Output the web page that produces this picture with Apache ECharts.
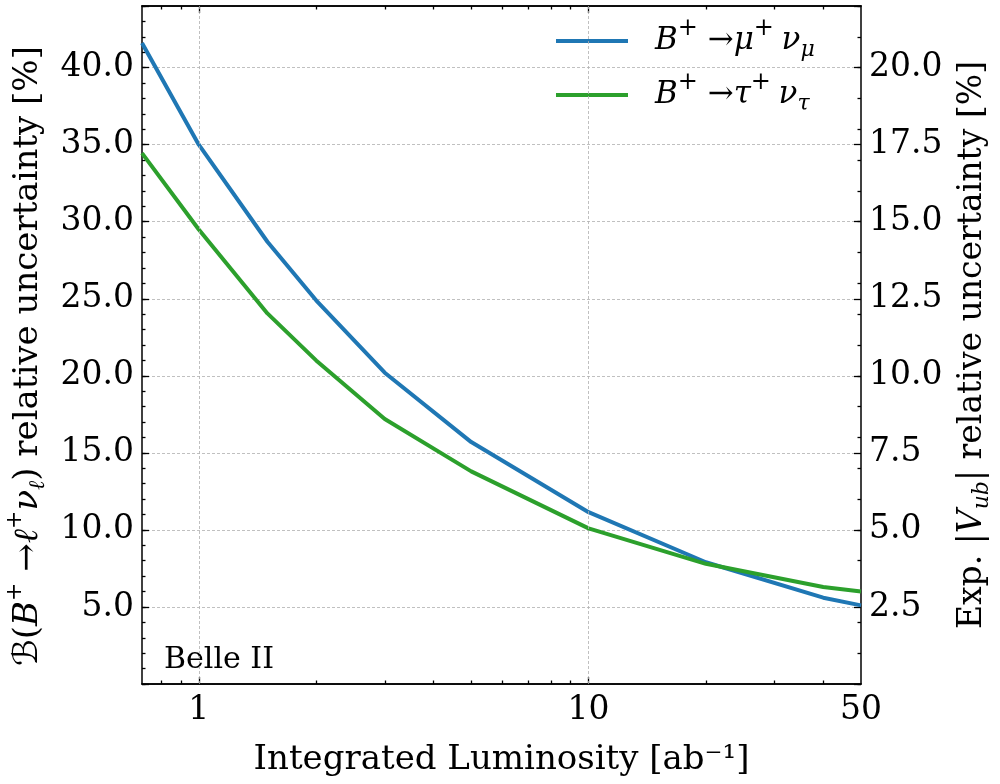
<!DOCTYPE html>
<html>
<head>
<meta charset="utf-8">
<script src="https://cdn.jsdelivr.net/npm/echarts@6/dist/echarts.min.js"></script>
<style>html,body{margin:0;padding:0;background:#fff}#c{width:1000px;height:784px}</style>
</head>
<body>
<div id="c"></div>
<script>
// ---- data ----
const lumi   = [0.715, 1, 1.5, 2, 3, 5, 10, 20, 40, 50];
const muNu   = [41.6, 35.0, 28.7, 24.9, 20.2, 15.7, 11.15, 7.9, 5.6, 5.1];
const tauNu  = [34.45, 29.5, 24.05, 21.0, 17.2, 13.8, 10.1, 7.8, 6.3, 6.0];
const xLabels = [1, 10, 50];
const xMajorTicks = [1, 10];
const xMinorTicks = [0.8, 0.9, 2, 3, 4, 5, 6, 7, 8, 9, 20, 30, 40];
const seriesNames = ['mu', 'tau'];

const SERIF = '"DejaVu Serif", serif';
const chart = echarts.init(document.getElementById('c'), null, {renderer: 'canvas'});

const X_MIN = 0.715, X_MAX = 50;
const L_MAX = 44, R_MAX = 22;

function xAxisDef(pos, ticks, len, labels) {
  return {
    type: 'log', logBase: 10, min: X_MIN, max: X_MAX, position: pos,
    axisLine: {show: true, onZero: false, lineStyle: {color: '#000', width: 1.5}},
    axisTick: {show: true, inside: true, length: len, customValues: ticks, lineStyle: {color: '#000', width: 1.3}},
    axisLabel: labels ? {show: true, customValues: xLabels, fontFamily: SERIF, fontSize: 33, color: '#000', margin: 10,
      formatter: v => String(Math.round(v))} : {show: false},
    splitLine: {show: false}, minorTick: {show: false}
  };
}

const FS = 33;
const supStyle = {fontFamily: SERIF, fontSize: 22, color: '#000', padding: [0, 0, 26, 0]};
const subStyle = {fontFamily: SERIF, fontSize: 22, fontStyle: 'italic', color: '#000', padding: [20, 0, 0, 0]};

const option = {
  backgroundColor: '#fff',
  animation: false,
  grid: {left: 142, right: 139, top: 6, bottom: 100, containLabel: false, outerBoundsMode: 'none'},
  legend: {
    show: true, top: 17, left: 556, padding: 0, orient: 'vertical', itemGap: 10,
    icon: 'rect', itemWidth: 72, itemHeight: 4,
    data: seriesNames,
    formatter: n => n === 'mu'
      ? '{i|B}{sp|+}{a| →}{i|μ}{sp|+ }{i|ν}{sb|μ}'
      : '{i|B}{sp|+}{a| →}{i|τ}{sp|+ }{i|ν}{sb|τ}',
    textStyle: {
      padding: [0, 0, 0, 22],
      rich: {
        i: {fontFamily: SERIF, fontStyle: 'italic', fontSize: 31, color: '#000'},
        a: {fontFamily: SERIF, fontSize: 31, color: '#000'},
        sp: {fontFamily: SERIF, fontSize: 24, color: '#000', padding: [0, 0, 24, 0]},
        sb: {fontFamily: SERIF, fontStyle: 'italic', fontSize: 22, color: '#000', padding: [18, 0, 0, 0]}
      }
    }
  },
  xAxis: [
    Object.assign(xAxisDef('bottom', xMajorTicks, 7, true), {
      name: 'Integrated Luminosity [ab⁻¹]', nameLocation: 'middle', nameGap: 59,
      nameTextStyle: {fontFamily: SERIF, fontSize: 34, color: '#000'}
    }),
    xAxisDef('bottom', xMinorTicks, 3.5, false),
    xAxisDef('top', xMajorTicks, 7, false),
    xAxisDef('top', xMinorTicks, 3.5, false)
  ],
  yAxis: [
    {
      type: 'value', min: 0, max: L_MAX, interval: 5, position: 'left',
      axisLine: {show: true, onZero: false, lineStyle: {color: '#000', width: 1.5}},
      axisTick: {show: true, inside: true, length: 7, lineStyle: {color: '#000', width: 1.3}},
      axisLabel: {fontFamily: SERIF, fontSize: 33, color: '#000', margin: 8,
        formatter: v => (v > 0 && v <= 40) ? v.toFixed(1) : ''},
      splitLine: {show: true, lineStyle: {color: '#b0b0b0', width: 0.8, type: [3, 2]}},
      name: '{cal|ℬ}{r|(}{i|B}{sp|+}{r| →}{i|ℓ}{sp|+}{i|ν}{sb|ℓ}{r|) relative uncertainty [%]}',
      nameLocation: 'middle', nameRotate: 90, nameGap: 90,
      nameTextStyle: {
        padding: [0, 22, 0, 0],
        rich: {
          r: {fontFamily: SERIF, fontSize: 34, color: '#000'},
          i: {fontFamily: SERIF, fontStyle: 'italic', fontSize: 34, color: '#000'},
          cal: {fontFamily: '"DejaVu Sans", serif', fontSize: 34, color: '#000'},
          sp: supStyle, sb: subStyle
        }
      }
    },
    {
      type: 'value', min: 0, max: L_MAX, interval: 1, position: 'left',
      axisLine: {show: false},
      axisTick: {show: true, inside: true, length: 3.5, lineStyle: {color: '#000', width: 1.3}},
      axisLabel: {show: false}, splitLine: {show: false}
    },
    {
      type: 'value', min: 0, max: R_MAX, interval: 2.5, position: 'right',
      axisLine: {show: true, onZero: false, lineStyle: {color: '#000', width: 1.5}},
      axisTick: {show: true, inside: true, length: 7, lineStyle: {color: '#000', width: 1.3}},
      axisLabel: {fontFamily: SERIF, fontSize: 33, color: '#000', margin: 8,
        formatter: v => (v > 0 && v <= 20) ? v.toFixed(1) : ''},
      splitLine: {show: false},
      name: '{r|Exp. |}{i|V}{sb|ub}{r|| relative uncertainty [%]}',
      nameLocation: 'middle', nameRotate: 90, nameGap: 90,
      nameTextStyle: {
        rich: {
          r: {fontFamily: SERIF, fontSize: FS, color: '#000'},
          i: {fontFamily: SERIF, fontStyle: 'italic', fontSize: FS, color: '#000'},
          sb: subStyle
        }
      }
    },
    {
      type: 'value', min: 0, max: R_MAX, interval: 1, position: 'right',
      axisLine: {show: false},
      axisTick: {show: true, inside: true, length: 3.5, lineStyle: {color: '#000', width: 1.3}},
      axisLabel: {show: false}, splitLine: {show: false}
    }
  ],
  graphic: [{
    type: 'text', left: 164, top: 645,
    style: {text: 'Belle II', fontFamily: SERIF, fontSize: 30, fill: '#000'}
  }],
  series: [
    {
      name: 'mu', type: 'line', xAxisIndex: 0, yAxisIndex: 0,
      data: lumi.map((x, i) => [x, muNu[i]]),
      showSymbol: false, symbol: 'none', clip: true,
      lineStyle: {color: '#1f77b4', width: 4}, itemStyle: {color: '#1f77b4'},
      markLine: {
        silent: true, symbol: 'none', label: {show: false},
        lineStyle: {color: '#b0b0b0', width: 0.8, type: [3, 2]},
        data: xMajorTicks.map(v => ({xAxis: v}))
      },
      z: 3
    },
    {
      name: 'tau', type: 'line', xAxisIndex: 0, yAxisIndex: 0,
      data: lumi.map((x, i) => [x, tauNu[i]]),
      showSymbol: false, symbol: 'none', clip: true,
      lineStyle: {color: '#2ca02c', width: 4}, itemStyle: {color: '#2ca02c'},
      z: 3
    }
  ]
};
chart.setOption(option);
</script>
</body>
</html>
